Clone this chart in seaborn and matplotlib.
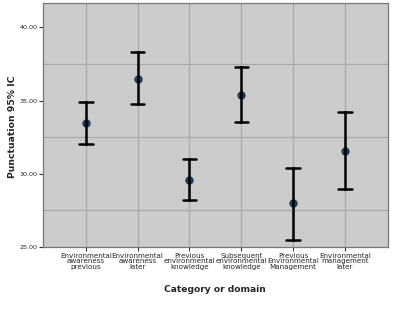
import pandas as pd
import seaborn as sns
import matplotlib.pyplot as plt

# Kategorien und Werte (Mittelwert mit 95%-KI)
categories = ['Environmental\nawareness\nprevious', 'Environmental\nawareness\nlater',
              'Previous\nenvironmental\nknowledge', 'Subsequent\nenvironmental\nknowledge',
              'Previous\nEnvironmental\nManagement', 'Environmental\nmanagement\nlater']
means = [33.5, 36.5, 29.6, 35.4, 28.0, 31.55]
lower = [32.05, 34.75, 28.2, 33.55, 25.5, 28.95]
upper = [34.9, 38.3, 31.0, 37.3, 30.4, 34.2]

# Long-Format: Median = Mittelwert, Spannweite = KI
rows = []
for c, m, lo, hi in zip(categories, means, lower, upper):
    for v in (lo, m, hi):
        rows.append({'category': c, 'value': v})
data = pd.DataFrame(rows)

sns.set_style('white')
fig = plt.figure(figsize=(3.93, 3.16), dpi=100)
ax = fig.add_axes([0.109, 0.218, 0.878, 0.772])
ax.set_facecolor('#cccccc')

sns.pointplot(data=data, x='category', y='value', order=categories,
              estimator='median', errorbar=('pi', 100), linestyle='none',
              color='#1c3d5c', markersize=4, err_kws={'color': 'black', 'linewidth': 1.8},
              capsize=0.26, ax=ax)
for line in ax.lines:
    if line.get_marker() in ('', 'None', None):
        line.set_color('black')

ax.set_xlim(-0.83, 5.83)
ax.set_ylim(25, 41.65)
ax.set_yticks([25, 30, 35, 40])
ax.set_yticklabels(['25.00', '30.00', '35.00', '40.00'])
ax.set_yticks([27.5, 32.5, 37.5], minor=True)
ax.grid(False)
ax.yaxis.grid(True, which='minor', color='#aaaaaa', linewidth=0.9)
ax.xaxis.grid(True, which='major', color='#aaaaaa', linewidth=0.9)
ax.set_axisbelow(True)

ax.tick_params(axis='x', which='major', labelsize=5.1, length=3, width=0.8,
               color='#333333', direction='out', pad=1)
ax.tick_params(axis='y', which='major', labelsize=4.6, length=3, width=0.8,
               color='#333333', direction='out', pad=1)
ax.tick_params(axis='y', which='minor', length=0)
ax.tick_params(left=True, bottom=True)
for lbl in ax.get_xticklabels():
    lbl.set_linespacing(0.9)
for s in ax.spines.values():
    s.set_color('#777777')
    s.set_linewidth(0.9)

ax.set_xlabel('')
ax.set_ylabel('')
fig.text(215 / 393, 1 - 290 / 316, 'Category or domain', fontsize=6.6, fontweight='bold',
         ha='center', va='center')
fig.text(13 / 393, 1 - 127 / 316, 'Punctuation 95% IC', fontsize=6.7, fontweight='bold',
         rotation=90, ha='center', va='center')

fig.savefig('out.png', dpi=100)
